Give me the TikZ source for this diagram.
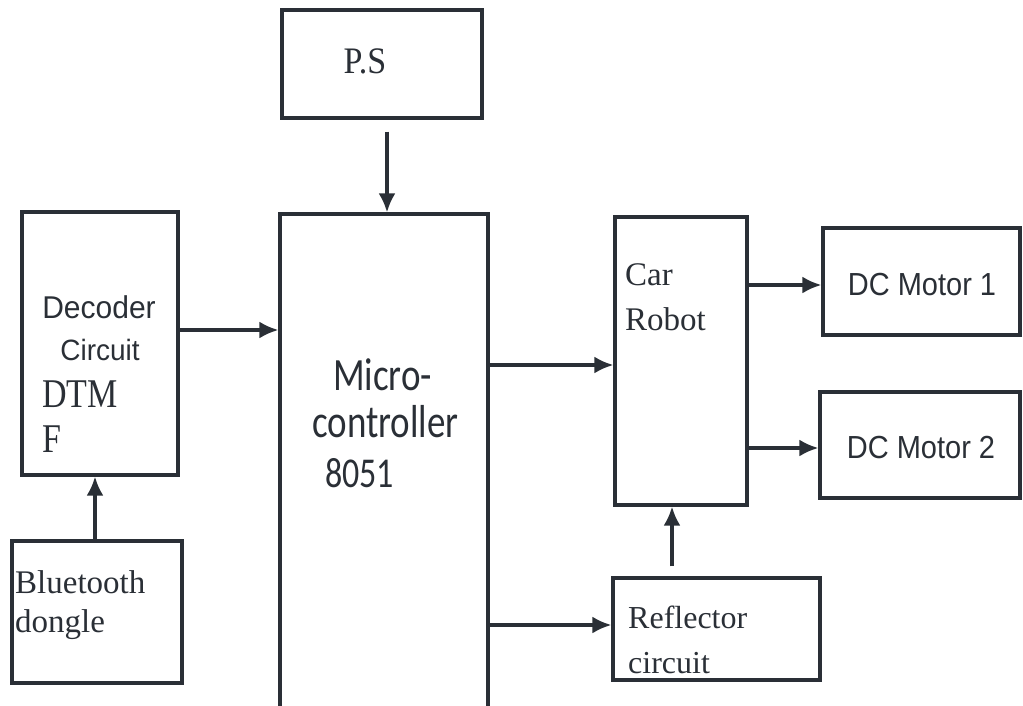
\documentclass[tikz,border=0pt]{standalone}
\usepackage{fontspec}
\setmainfont{Liberation Serif}
\newfontfamily\arialfont{Liberation Sans}
\newfontfamily\calfont{Carlito}
\usetikzlibrary{arrows.meta}

\definecolor{ink}{HTML}{2A2F36}

% taller-than-wide lettering
\newcommand{\tall}[2][1.2]{\scalebox{1}[#1]{#2}}

\tikzset{
    blk/.style={draw=ink, line width=3.2pt, inner sep=0pt},
    arr/.style={draw=ink, line width=3.2pt, -{Latex[length=19pt,width=17pt]}},
    lbl/.style={inner sep=0pt, anchor=base west, text=ink},
    clbl/.style={inner sep=0pt, anchor=base, text=ink},
}

\begin{document}
\begin{tikzpicture}[x=1pt,y=-1pt]
    \useasboundingbox (0,0) rectangle (1023,706);
    \clip (0,0) rectangle (1023,706);

    % blocks
    \node[blk, minimum width=200pt, minimum height=108pt] (ps) at (382,64) {};
    \node[blk, minimum width=208pt, minimum height=526pt] (mc) at (384,477) {};
    \node[blk, minimum width=156pt, minimum height=263pt] (dec) at (100,343.5) {};
    \node[blk, minimum width=170pt, minimum height=142pt] (bt) at (97,612) {};
    \node[blk, minimum width=132pt, minimum height=288pt] (car) at (681,361) {};
    \node[blk, minimum width=197pt, minimum height=107pt] (m1) at (921.5,281.5) {};
    \node[blk, minimum width=200pt, minimum height=106pt] (m2) at (920,445) {};
    \node[blk, minimum width=207pt, minimum height=102pt] (refl) at (716.5,629) {};

    % texts
    \node[clbl, font=\fontsize{34}{40}\selectfont] (psT) at (365,74) {\tall[1.1]{P.S}};
    \node[clbl, font=\arialfont\fontsize{30}{34}\selectfont] (decA) at (99,318) {\tall[1.05]{Decoder}};
    \node[clbl, font=\arialfont\fontsize{28}{34}\selectfont] (decB) at (100,360) {\tall[1.05]{Circuit}};
    \node[lbl, font=\fontsize{34}{40}\selectfont] (decC) at (42,407) {\tall{DTM}};
    \node[lbl, font=\fontsize{34}{40}\selectfont] (decD) at (42,452) {\tall{F}};
    \node[lbl, font=\calfont\fontsize{37}{44}\selectfont] (mcA) at (333,390) {\tall[1.25]{Micro-}};
    \node[lbl, font=\calfont\fontsize{37}{44}\selectfont] (mcB) at (312,437) {\tall[1.25]{controller}};
    \node[lbl, font=\calfont\fontsize{34}{40}\selectfont] (mcC) at (325,487) {\tall[1.25]{8051}};
    \node[lbl, font=\fontsize{33}{40}\selectfont] (carA) at (625,285) {Car};
    \node[lbl, font=\fontsize{33}{40}\selectfont] (carB) at (625,330) {Robot};
    \node[clbl, font=\arialfont\fontsize{29}{34}\selectfont] (m1T) at (922,295) {\tall[1.1]{DC Motor 1}};
    \node[clbl, font=\arialfont\fontsize{29}{34}\selectfont] (m2T) at (921,458) {\tall[1.1]{DC Motor 2}};
    \node[lbl, font=\fontsize{33}{40}\selectfont] (btA) at (15,593) {Bluetooth};
    \node[lbl, font=\fontsize{33}{40}\selectfont] (btB) at (15,632) {dongle};
    \node[lbl, font=\fontsize{32}{40}\selectfont] (rfA) at (628,628) {Reflector};
    \node[lbl, font=\fontsize{32}{40}\selectfont] (rfB) at (628,673) {circuit};

    % connections
    \draw[arr, shorten <=12pt] (ps.south -| 387,0) -- (mc.north -| 387,0);
    \draw[arr] (bt.north -| 95,0) -- (dec.south -| 95,0);
    \draw[arr] (dec.east |- 0,330) -- (mc.west |- 0,330);
    \draw[arr] (mc.east |- 0,365) -- (car.west |- 0,365);
    \draw[arr] (mc.east |- 0,625) -- (refl.west |- 0,625);
    \draw[arr, shorten <=10pt] (refl.north -| 672,0) -- (car.south -| 672,0);
    \draw[arr] (car.east |- 0,285) -- (m1.west |- 0,285);
    \draw[arr] (car.east |- 0,448) -- (m2.west |- 0,448);
\end{tikzpicture}
\end{document}
